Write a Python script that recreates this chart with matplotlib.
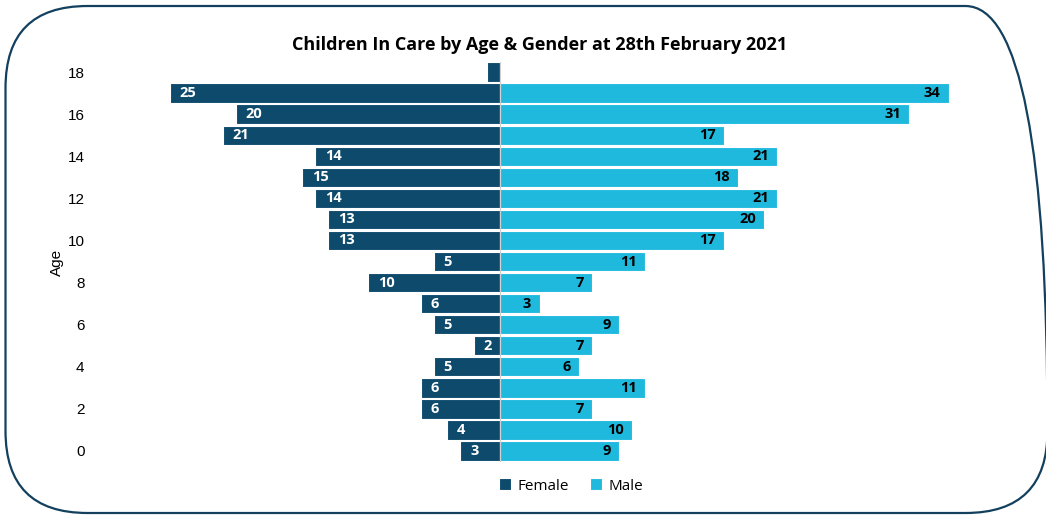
import matplotlib.pyplot as plt
from matplotlib.patches import FancyBboxPatch

plt.rcParams['path.simplify'] = False

ages = list(range(19))
female = [3, 4, 6, 6, 5, 2, 5, 6, 10, 5, 13, 13, 14, 15, 14, 21, 20, 25, 1]
male = [9, 10, 7, 11, 6, 7, 9, 3, 7, 11, 17, 20, 21, 18, 21, 17, 31, 34, 0]
yticks = list(range(0, 19, 2))

dark = '#0D4A6C'
light = '#1FB9DE'

fig = plt.figure(figsize=(10.46, 5.15), dpi=100)

# rounded frame around the whole chart, in inches
frame = FancyBboxPatch((0.055, 0.02), 10.42, 5.07, boxstyle='round,pad=0,rounding_size=0.82',
                       fc='none', ec='#12405E', lw=1.6, transform=fig.dpi_scale_trans,
                       figure=fig)
frame.set_clip_on(False)
fig.patches.append(frame)

ax = fig.add_axes([104 / 1046, 53.5 / 515, 924 / 1046, 400 / 515])
ax.patch.set_visible(False)
ax.barh(ages, [-v for v in female], height=0.92, color=dark, edgecolor='white',
        linewidth=0.8, label='Female')
ax.barh(ages, male, height=0.92, color=light, edgecolor='white',
        linewidth=0.8, label='Male')

for a, f, m in zip(ages, female, male):
    if f > 1:
        ax.annotate(str(f), (-f, a), xytext=(7, 0), textcoords='offset points',
                    ha='left', va='center', color='white', fontsize=10.5,
                    fontweight='bold', family='Open Sans')
    if m > 1:
        ax.annotate(str(m), (m, a), xytext=(-6, 0), textcoords='offset points',
                    ha='right', va='center', color='black', fontsize=10.5,
                    fontweight='bold', family='Open Sans')

ax.set_xlim(-30, 40)
ax.set_ylim(-0.5, 18.5)
ax.set_yticks(yticks)
ax.set_yticklabels([str(t) for t in yticks], fontsize=11, family='Liberation Sans')
ax.tick_params(axis='y', length=0, pad=14)
ax.set_xticks([])
for s in ['top', 'right', 'bottom', 'left']:
    ax.spines[s].set_visible(False)
ax.axvline(0, color='#D0D0D0', lw=0.8)

fig.text(57 / 1046, 1 - 262 / 515, 'Age', rotation=90, ha='center', va='center',
         fontsize=11, family='Liberation Sans')
fig.text(540 / 1046, 1 - 45 / 515, 'Children In Care by Age & Gender at 28th February 2021',
         ha='center', va='center', fontsize=13, fontweight='bold', family='Open Sans')

fig.legend(loc='center', bbox_to_anchor=(571 / 1046, 1 - 486 / 515), ncol=2, frameon=False,
           prop={'family': 'Open Sans', 'size': 11}, handlelength=0.8, handleheight=0.8,
           handletextpad=0.4, columnspacing=1.4)

fig.savefig('out.png', dpi=100)
